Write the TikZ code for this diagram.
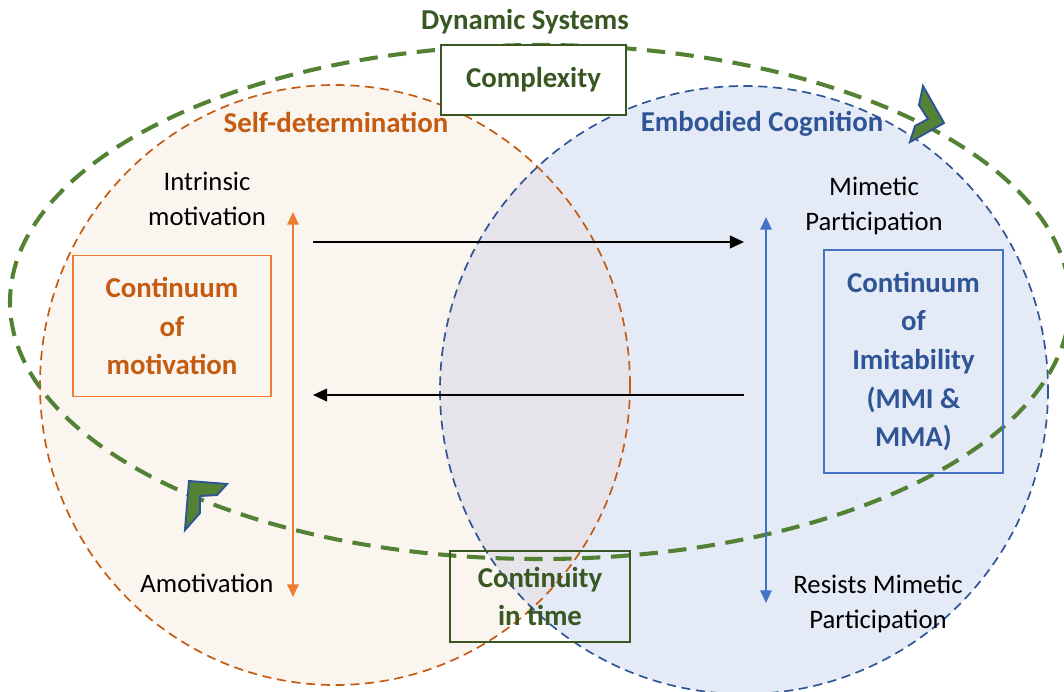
\documentclass[tikz,border=0pt]{standalone}
\usepackage{fontspec}
\setmainfont{Carlito}
\definecolor{sdorange}{RGB}{197,90,17}
\definecolor{sdlight}{RGB}{237,125,49}
\definecolor{ecblue}{RGB}{47,85,151}
\definecolor{eclight}{RGB}{68,114,196}
\definecolor{dsgreen}{RGB}{84,130,53}
\definecolor{dsdark}{RGB}{56,87,35}
\definecolor{sdfill}{RGB}{251,245,239}
\definecolor{ecfill}{RGB}{228,235,246}
\definecolor{mixfill}{RGB}{231,227,234}
\usetikzlibrary{arrows.meta,positioning}

\begin{document}
\begin{tikzpicture}[x=0.025cm, y=-0.025cm,
    plain/.style={font=\fontsize{19}{24.8}\selectfont, align=center, inner sep=0pt},
    title/.style={font=\fontsize{20.5}{27.5}\selectfont\bfseries, align=center, inner sep=0pt},
    framed/.style={draw, line width=1.2pt, title},
    circleline/.style={line width=1.2pt, dash pattern=on 6.5pt off 4pt},
    scale arrow/.style={{Triangle[length=9pt,width=8pt]}-{Triangle[length=9pt,width=8pt]}, line width=1.6pt},
    flow/.style={-{Triangle[length=10pt,width=9pt]}, line width=1.4pt},
    chevron/.style={fill=dsgreen, draw=ecblue, line width=1.4pt, line join=miter}]
  \useasboundingbox (0,0) rectangle (1064,691);

  %--- the two theory circles ---
  \fill[sdfill] (335,385) ellipse [x radius=295, y radius=300];
  \fill[ecfill] (744,390) circle [radius=304];
  \begin{scope}
    \clip (335,385) ellipse [x radius=295, y radius=300];
    \fill[mixfill] (744,390) circle [radius=304];
  \end{scope}
  \draw[circleline, sdorange] (335,385) ellipse [x radius=295, y radius=300];
  \draw[circleline, ecblue] (744,390) circle [radius=304];

  %--- dynamic systems loop ---
  \draw[dsgreen, line width=2.9pt, dash pattern=on 13pt off 7.5pt] (540,302) ellipse [x radius=530, y radius=257];
  \draw[chevron] (923,86) -- (944,123) -- (910,142) -- (915,126) -- (928,119) -- (919,105) -- cycle;
  \draw[chevron] (189,481) -- (227,484) -- (217,495) -- (200,496) -- (200,513) -- (185,530) -- cycle;

  % headings
  \node[title, text=dsdark] (dyn) at (525,22) {Dynamic Systems};
  \node[framed, draw=dsdark, fill=white, text=dsdark, minimum width=4.625cm, minimum height=1.75cm] (complex) at (533.5,80) {Complexity};
  \node[title, text=sdorange] (selfdet) at (336,122) {Self-determination};
  \node[title, text=ecblue] (embodied) at (762,124) {Embodied Cognition};

  %--- motivation side ---
  \node[plain] (intrinsic) at (207,199) {Intrinsic\\motivation};
  \node[plain] (amotiv) at (207,583) {Amotivation};
  \node[framed, draw=sdlight, text=sdorange, minimum width=4.95cm, minimum height=3.525cm] (motiv) at (172,326) {Continuum\\of\\motivation};
  \coordinate (sdtop) at (293,212);
  \coordinate (sdbot) at (293,597);
  \draw[scale arrow, sdlight] (sdtop) -- (sdbot);

  %--- imitability side ---
  \node[plain] (mimetic) at (874,206) {Mimetic\\Participation};
  \node[plain] (resists) at (878,604) {Resists Mimetic\\Participation};
  \node[framed, draw=eclight, text=ecblue, minimum width=4.475cm, minimum height=5.575cm] (imit) at (913.5,361.5) {Continuum\\of\\Imitability\\(MMI \&\\MMA)};
  \coordinate (ectop) at (766,217);
  \coordinate (ecbot) at (766,603);
  \draw[scale arrow, eclight] (ectop) -- (ecbot);

  % exchange between the two
  \coordinate (sdout) at (313,242);
  \coordinate (ecin) at (744,242);
  \coordinate (ecout) at (744,395);
  \coordinate (sdin) at (313,395);
  \draw[flow] (sdout) -- (ecin);
  \draw[flow] (ecout) -- (sdin);

  % time
  \node[framed, draw=dsdark, text=dsdark, minimum width=4.5cm, minimum height=2.275cm] (time) at (540,596.5) {Continuity\\in time};
\end{tikzpicture}
\end{document}
